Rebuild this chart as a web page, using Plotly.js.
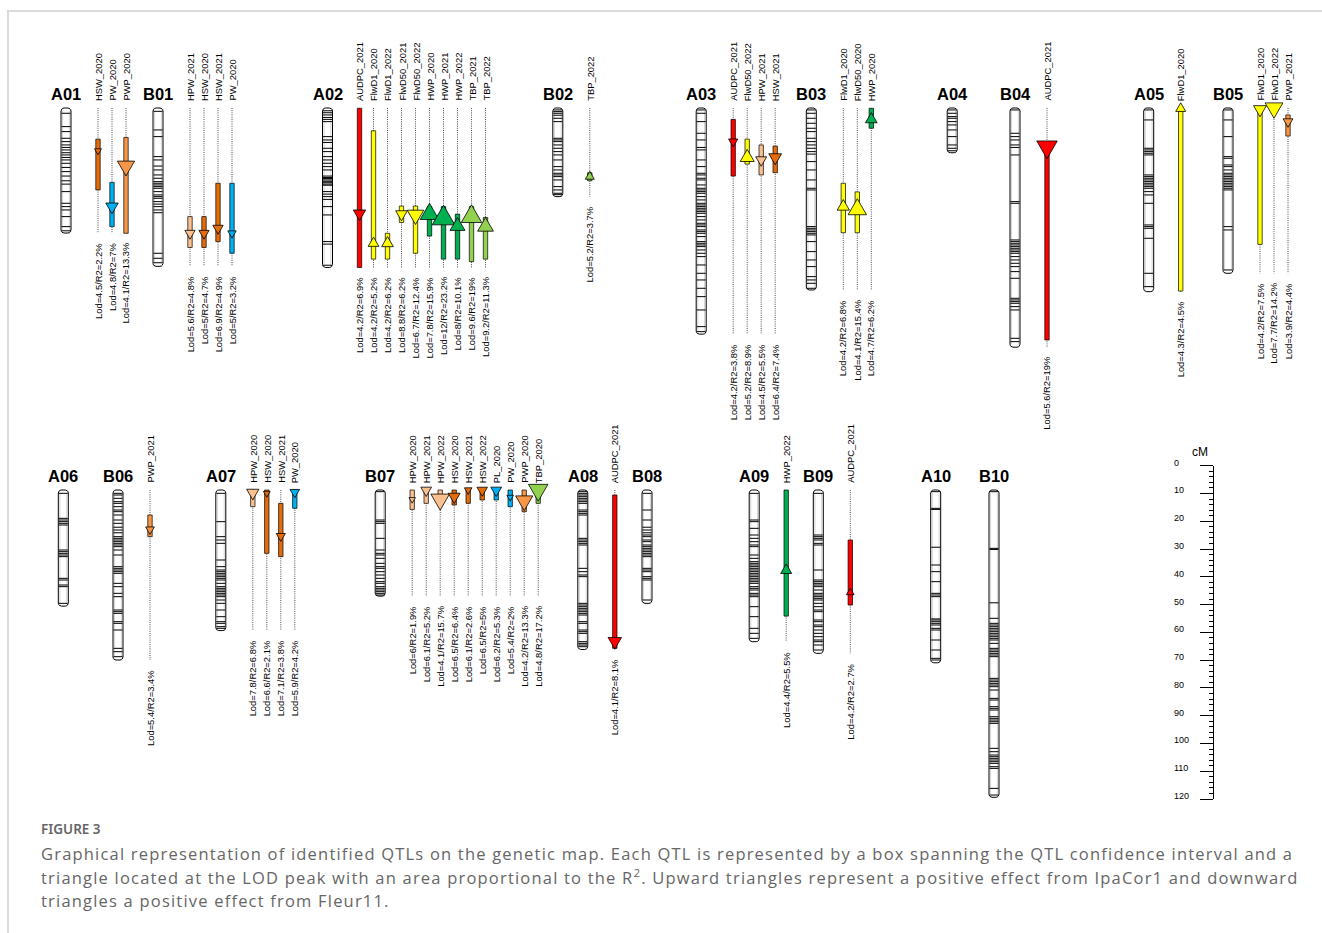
<!DOCTYPE html>
<html><head><meta charset="utf-8">
<script src="https://cdn.plot.ly/plotly-3.0.1.min.js"></script>
<style>html,body{margin:0;padding:0;background:#fff}#chart{width:1322px;height:933px}
text.annotation-text[style*="Open Sans"]{letter-spacing:1.2px}</style>
</head><body><div id="chart"></div>
<script>
// ================= DATA =================
const chromNames = ['A01','B01','A02','B02','A03','B03','A04','B04','A05','B05',
                    'A06','B06','A07','B07','A08','B08','A09','B09','A10','B10'];
const chromLengths = [45, 57, 57.4, 31.9, 81.4, 65.5, 16.1, 86.1, 66.1, 59.5,
                      41.8, 61.2, 50.6, 38.2, 57.4, 40.8, 54.6, 58.8, 62.2, 110.6];

// marker positions (cM) per chromosome
const mkA01 = [1.9,6.7,8.5,10.9,12.1,13.3,14.2,15.1,16.1,16.9,17.8,18.7,19.9,21.4,22.9,24.5,26.2,27.4,30.1,34.3,35.5,36.7,39.1,42.7,44.2];
const mkB01 = [1.2,7.9,10.3,17.5,18.7,20.9,22.3,24.1,25.3,26.5,27.1,27.7,28.3,28.9,30.1,31.3,31.9,32.5,33.7,34.6,35.5,36.7,37.7,52.3,54.1,55.7];
const mkA02 = [1.0,1.7,2.5,3.4,4.1,4.9,10.3,11.5,12.4,14.5,15.7,17.5,18.7,19.9,21.1,22.3,24.5,25.0,25.4,25.9,26.4,26.9,27.4,27.8,30.1,31.0,31.9,32.9,35.5,38.5,48.1,49.0,56.6];
const mkB02 = [0.7,1.3,1.9,2.6,3.7,4.9,10.9,11.5,12.1,13.3,14.5,15.7,16.9,18.7,21.1,22.3,23.5,24.1,24.7,25.9,28.3,29.5,30.7,31.2];
const mkA03 = [0.7,1.9,4.9,9.1,11.5,14.2,15.1,18.7,21.1,23.5,24.1,25.3,25.9,27.7,28.9,29.5,30.1,30.7,31.9,33.1,34.3,34.9,35.5,36.1,36.7,37.3,37.9,39.1,40.3,41.5,42.1,42.7,43.9,44.5,45.1,46.3,48.1,48.7,49.3,49.9,51.1,52.3,53.5,56.5,59.5,61.9,64.9,67.9,72.7,78.7,80.5];
const mkB03 = [0.7,1.9,3.7,5.5,7.3,8.5,10.9,12.1,13.3,14.5,15.7,16.6,19.3,22.3,25.9,28.9,29.5,42.7,43.3,43.9,44.5,45.1,45.7,48.1,51.7,54.7,57.1,60.7,61.9,63.1,64.9];
const mkA04 = [0.7,1.9,3.1,3.7,4.9,6.1,7.9,10.3,13.3,14.5,15.4];
const mkB04 = [0.7,9.1,10.3,11.5,13.3,14.2,16.9,33.7,34.3,47.5,48.1,48.7,49.3,49.9,50.5,51.1,51.7,52.3,53.5,54.7,55.9,57.1,58.9,61.3,68.5,69.1,69.7,70.3,71.5,72.7,82.9,84.1];
const mkA05 = [0.7,4.3,14.5,15.1,15.7,16.3,16.9,24.1,24.7,25.3,25.9,26.5,27.1,27.7,28.3,28.9,30.1,31.3,34.3,42.1,42.7,43.3,46.9,59.5,64.3];
const mkB05 = [0.7,4.3,10.3,17.5,18.1,20.5,21.1,22.3,23.5,24.1,24.7,25.3,25.9,26.5,27.1,27.7,28.3,28.9,29.5,42.7,43.9,58.3];
const mkA06 = [1.2,10.2,10.8,11.4,12,12.6,21.6,22.2,22.8,23.4,24,31.8,32.4,34.2,34.8,40.8];
const mkB06 = [1.2,1.8,3,4.2,4.8,6,7.2,7.8,9,10.8,12,13.4,14.4,15.4,16.8,17.4,18,18.6,19.2,19.8,20.4,21.6,23.4,27.6,28.2,28.8,29.4,30,33.6,34.8,37.2,38.4,43.2,43.8,44.4,47.4,48,50.4,57,58.2,60];
const mkA07 = [1.2,11.4,16.8,18,19.2,25.2,27.6,28.8,29.4,30,30.6,31.2,31.8,32.4,33.6,34.8,35.4,36,36.6,37.2,37.8,38.4,39.6,40.8,43.2,45.6,47.4,48,49.2,49.8];
const mkB07 = [0.6,10.8,11.4,12,17.4,21.6,22.8,23.4,24.6,26.4,27.6,28.2,29.4,30.6,31.8,33,33.6,34.8,35.4,36,36.6,37.2,37.8];
const mkA08 = [0.6,1.2,1.8,2.4,3,3.6,4.2,4.8,7.2,7.8,8.4,9,17.4,18,18.6,19.2,19.8,28.2,29.4,30.6,31.2,40.8,41.4,42,42.6,43.2,43.8,44.4,45,47.4,48,50.4,51,51.6,54.6,55.2,55.8,56.4];
const mkB08 = [1.2,7.2,10.8,13.4,14.4,15.4,16.2,16.8,18,18.6,19.8,20.4,21,21.6,22.2,22.8,23.4,24,28.2,28.8,29.4,31.2,31.8,32.4,39.6];
const mkA09 = [1.2,10.8,11.4,13.8,16.2,17.4,18.6,19.8,20.4,23.4,24.6,25.8,26.4,27,27.6,28.2,28.8,29.4,30,30.6,31.2,31.8,32.4,33,33.6,34.8,35.4,36,37.2,37.8,38.4,42,45.6,49.8,51.6,53.4];
const mkB09 = [1.2,16.2,16.8,17.4,18,19.2,19.8,28.8,32.4,33,33.6,34.2,34.8,36,37.2,37.8,38.4,39,39.6,40.8,42,43.2,43.8,46.8,47.4,48.6,49.2,50.4,51.6,52.8,54,54.6,55.8,57.6];
const mkA10 = [0.6,6.6,7,20.6,27,29.4,33,37.2,37.8,38.4,46.4,46.8,47.4,48,48.6,49.8,50.4,54,57.6,60.6,61.2];
const mkB10 = [0.6,21,21.4,40.6,46.2,48,48.6,49.2,49.8,50.4,51,51.6,52.2,52.8,53.4,54,55.2,57,57.6,58.2,58.8,59.4,60,67.8,68.4,69,69.6,70.2,70.8,72,75,75.6,78,78.6,79.2,81.6,82.2,82.8,83.4,84,93,94.2,95.4,96,96.6,97.2,97.8,98.4,99.6,100.2,107.4,109.8];
const chromMarkers = [mkA01,mkB01,mkA02,mkB02,mkA03,mkB03,mkA04,mkB04,mkA05,mkB05,
                      mkA06,mkB06,mkA07,mkB07,mkA08,mkB08,mkA09,mkB09,mkA10,mkB10];

// QTLs
const qtlChrom = ['A01','A01','A01','B01','B01','B01','B01',
  'A02','A02','A02','A02','A02','A02','A02','A02','A02','A02',
  'B02','A03','A03','A03','A03','B03','B03','B03','B04','A05','B05','B05','B05',
  'B06','A07','A07','A07','A07',
  'B07','B07','B07','B07','B07','B07','B07','B07','B07','B07',
  'A08','A09','B09'];
const qtlTrait = ['HSW_2020','PW_2020','PWP_2020','HPW_2021','HSW_2020','HSW_2021','PW_2020',
  'AUDPC_2021','FlwD1_2020','FlwD1_2022','FlwD50_2021','FlwD50_2022','HWP_2020','HWP_2021','HWP_2022','TBP_2021','TBP_2022',
  'TBP_2022','AUDPC_2021','FlwD50_2022','HPW_2021','HSW_2021','FlwD1_2020','FlwD50_2020','HWP_2020','AUDPC_2021','FlwD1_2020','FlwD1_2020','FlwD1_2022','PWP_2021',
  'PWP_2021','HPW_2020','HSW_2020','HSW_2021','PW_2020',
  'HPW_2020','HPW_2021','HPW_2022','HSW_2020','HSW_2021','HSW_2022','PL_2020','PW_2020','PWP_2020','TBP_2020',
  'AUDPC_2021','HWP_2022','AUDPC_2021'];
const qtlStart = [11.2,26.8,10.6,39.1,39.1,27.1,27.1,
  0.1,8.2,45.1,35.3,35.3,35.5,35.5,38.2,35.5,39.4,
  23.3,4.1,11.2,13.3,13.7,27.1,30.2,0.1,12.7,0.7,0.7,0,2.5,
  9,0,0,4.8,0,
  0,0,0,0,0,0,0,0,0,0,
  1.8,0,18];
const qtlEnd = [29.5,42.7,45.1,50.2,50.2,48.1,52.3,
  57.4,54.4,54.4,41.2,52.3,46.1,54.4,54.4,55.3,54.4,
  26.2,24.5,20.2,24.1,23.3,44.9,44.9,7.3,83.5,65.9,49.1,1.5,10.1,
  16.8,6,22.8,24,6.6,
  7,4.8,3,5.4,4.8,3.6,3.6,6,7.8,4.8,
  57,45.4,41.4];
const qtlPeak = [15.4,35.5,20.9,45.1,45.1,43.3,45.1,
  38.0,48.7,48.7,38.2,38.5,38.2,39.7,42.5,39.1,42.7,
  24.7,12.1,17.8,18.7,17.8,35.5,36.5,4.1,14.0,0.2,0.5,0,4.9,
  14.2,1,1.2,16.6,0.8,
  3.4,0.1,3.4,2.4,0,0.1,0.1,2.6,3.9,0,
  54.5,28.9,36.9];
const qtlDir = ['down','down','down','down','down','down','down',
  'down','up','up','down','down','up','up','up','up','up',
  'up','down','up','down','down','up','up','up','down','up','down','down','down',
  'down','down','down','down','down',
  'down','down','down','down','down','down','down','down','down','down',
  'down','up','up'];
const qtlLod = [4.5,4.8,4.1,5.6,5,6.9,5,
  4.2,4.2,4.2,8.8,6.7,7.8,12,8,9.6,9.2,
  5.2,4.2,5.2,4.5,6.4,4.2,4.1,4.7,5.6,4.3,4.2,7.7,3.9,
  5.4,7.8,6.6,7.1,5.9,
  6,6.1,4.1,6.5,6.1,6.5,6.2,5.4,4.2,4.8,
  4.1,4.4,4.2];
const qtlR2 = [2.2,7,13.3,4.8,4.7,4.9,3.2,
  6.9,5.2,6.2,6.2,12.4,15.9,23.2,10.1,19,11.3,
  3.7,3.8,8.9,5.5,7.4,6.8,15.4,6.2,19,4.5,7.5,14.2,4.4,
  3.4,6.8,2.1,3.8,4.2,
  1.9,5.2,15.7,6.4,2.6,5,5.3,2,13.3,17.2,
  8.1,5.5,2.7];

const rulerTicks = [0,10,20,30,40,50,60,70,80,90,100,110,120];
const rulerUnit = 'cM';
const captionTitle = 'FIGURE 3';
const captionLines = [
  'Graphical representation of identified QTLs on the genetic map. Each QTL is represented by a box spanning the QTL confidence interval and a',
  'triangle located at the LOD peak with an area proportional to the R<sup>2</sup>. Upward triangles represent a positive effect from IpaCor1 and downward',
  'triangles a positive effect from Fleur11.'
];

// ================= LAYOUT / STYLE =================
const W = 1322, H = 933;
const PXCM = 2.778;                 // pixels per cM
const ROW_TOP = [108, 490];         // pixel y of 0 cM for each row
const chromRow = [0,0,0,0,0,0,0,0,0,0, 1,1,1,1,1,1,1,1,1,1];
const chromX = [66,158,327.5,557.8,701.2,811.3,952.2,1015,1148.7,1228,
                63.3,118,220.8,380.2,582.8,647,754.2,818.3,935.7,994];
const CHROM_W = 10, TRACK_OFF = 32, TRACK_STEP = 14, BOX_W = 4.4, TRI_K = 4.7;
const traitColor = {AUDPC:'#FF0000', FlwD1:'#FFFF00', FlwD50:'#FFFF00', HWP:'#00B050', TBP:'#92D050',
  HPW:'#FAC090', HSW:'#E46C0A', PWP:'#F79646', PW:'#00B0F0', PL:'#00B0F0'};
const FONT = 'Liberation Sans, Arial, sans-serif';
const RULER_X = 1213.3, RULER_TOP = 465.7, RULER_BOT = 799, RULER_LABEL_X = 1173;

const traces = [];
const annotations = [];
const yref = r => r === 0 ? 'y' : 'y2';

// chromosomes
chromNames.forEach((name, i) => {
  const xc = chromX[i], L = chromLengths[i], ya = yref(chromRow[i]);
  const hw = CHROM_W / 2, r = 3, ry = r / PXCM;
  const xs = [], ys = [];
  const arc = (cx, cy, a0, a1) => { for (let k = 0; k <= 6; k++) { const a = a0 + (a1 - a0) * k / 6; xs.push(cx + r * Math.cos(a)); ys.push(cy + ry * Math.sin(a)); } };
  arc(xc - hw + r, ry, Math.PI, 1.5 * Math.PI);
  arc(xc + hw - r, ry, 1.5 * Math.PI, 2 * Math.PI);
  arc(xc + hw - r, L - ry, 0, 0.5 * Math.PI);
  arc(xc - hw + r, L - ry, 0.5 * Math.PI, Math.PI);
  xs.push(xs[0]); ys.push(ys[0]);
  traces.push({type:'scatter', mode:'lines', x:xs, y:ys, yaxis:ya, fill:'toself', fillcolor:'#ffffff',
    line:{color:'#000', width:1}, hoverinfo:'skip', showlegend:false});
  // inner light edge
  traces.push({type:'scatter', mode:'lines', x:[xc - hw + 1.6, xc - hw + 1.6, null, xc + hw - 1.6, xc + hw - 1.6],
    y:[ry, L - ry, null, ry, L - ry], yaxis:ya, line:{color:'#c8c8c8', width:0.8}, hoverinfo:'skip', showlegend:false});
  // bands
  const bx = [], by = [];
  chromMarkers[i].forEach(m => { bx.push(xc - hw + 0.5, xc + hw - 0.5, null); by.push(m, m, null); });
  traces.push({type:'scatter', mode:'lines', x:bx, y:by, yaxis:ya, line:{color:'#000', width:1},
    hoverinfo:'skip', showlegend:false});
  // name
  annotations.push({x:xc, y:-4 / PXCM, xref:'x', yref:ya, text:name, showarrow:false, xanchor:'center', yanchor:'bottom',
    font:{family:FONT, size:16.5, color:'#000', weight:'bold'}, borderpad:0});
});

// tracks
const trackCount = {};
const qtlX = qtlChrom.map(c => { const k = trackCount[c] || 0; trackCount[c] = k + 1; return chromX[chromNames.indexOf(c)] + TRACK_OFF + TRACK_STEP * k; });
const qtlRow = qtlChrom.map(c => chromRow[chromNames.indexOf(c)]);
const qtlLen = qtlChrom.map(c => chromLengths[chromNames.indexOf(c)]);
const colorOf = t => traitColor[t.split('_')[0]];

// dotted track lines
[0, 1].forEach(r => {
  const dx = [], dy = [];
  qtlX.forEach((x, j) => { if (qtlRow[j] === r) { dx.push(x, x, null); dy.push(0, qtlLen[j], null); } });
  traces.push({type:'scatter', mode:'lines', x:dx, y:dy, yaxis:yref(r), line:{color:'#222', width:0.8, dash:'1px,1.2px'},
    hoverinfo:'skip', showlegend:false});
});

// QTL boxes
qtlX.forEach((x, j) => {
  const s = qtlStart[j], e = qtlEnd[j];
  traces.push({type:'scatter', mode:'lines', x:[x - BOX_W/2, x + BOX_W/2, x + BOX_W/2, x - BOX_W/2, x - BOX_W/2],
    y:[s, s, e, e, s], yaxis:yref(qtlRow[j]), fill:'toself', fillcolor:colorOf(qtlTrait[j]),
    line:{color:'#000', width:0.7}, hoverinfo:'skip', showlegend:false});
});
// triangles (area proportional to R2)
qtlX.forEach((x, j) => {
  const w = TRI_K * Math.sqrt(qtlR2[j]);
  const h = w * 0.866 / PXCM;
  const p = qtlPeak[j];
  const apex = qtlDir[j] === 'up' ? p - 2 * h / 3 : p + 2 * h / 3;
  const base = qtlDir[j] === 'up' ? p + h / 3 : p - h / 3;
  traces.push({type:'scatter', mode:'lines', x:[x - w/2, x + w/2, x, x - w/2], y:[base, base, apex, base],
    yaxis:yref(qtlRow[j]), fill:'toself', fillcolor:colorOf(qtlTrait[j]),
    line:{color:'#000', width:0.8}, hoverinfo:'skip', showlegend:false});
});
// labels
qtlX.forEach((x, j) => {
  const ya = yref(qtlRow[j]);
  annotations.push({x:x, y:-6 / PXCM, xref:'x', yref:ya, text:qtlTrait[j], showarrow:false, textangle:-90,
    xanchor:'center', yanchor:'bottom', borderpad:0, font:{family:FONT, size:9.4, color:'#000'}});
  annotations.push({x:x, y:qtlLen[j] + 9 / PXCM, xref:'x', yref:ya, text:'Lod=' + qtlLod[j] + '/R2=' + qtlR2[j] + '%',
    showarrow:false, textangle:-90, xanchor:'center', yanchor:'top', borderpad:0, font:{family:FONT, size:9.4, color:'#000'}});
});

// ruler (axis y3 draws line + ticks; labels placed through full-height axis y4)
traces.push({type:'scatter', mode:'markers', x:[RULER_X], y:[0], yaxis:'y3', marker:{opacity:0, size:1},
  hoverinfo:'skip', showlegend:false});
traces.push({type:'scatter', mode:'markers', x:[RULER_X], y:[0], yaxis:'y4', marker:{opacity:0, size:1},
  hoverinfo:'skip', showlegend:false});
rulerTicks.forEach(t => {
  annotations.push({x:RULER_LABEL_X, y:t - 1.1, xref:'x', yref:'y4', text:String(t), showarrow:false,
    xanchor:'left', yanchor:'middle', borderpad:0, font:{family:FONT, size:9, color:'#000'}});
});
annotations.push({x:1200, y:-4.9, xref:'x', yref:'y4', text:rulerUnit, showarrow:false, xanchor:'center', yanchor:'middle',
  borderpad:0, font:{family:FONT, size:12, color:'#000'}});

// caption
annotations.push({x:40 / W, y:1 - 829 / H, xref:'paper', yref:'paper', text:captionTitle, showarrow:false,
  xanchor:'left', yanchor:'middle', borderpad:0, font:{family:'Noto Sans, sans-serif', size:13.5, color:'#666', weight:600}});
captionLines.forEach((t, k) => {
  annotations.push({x:40 / W, y:1 - (853 + 23.5 * k) / H, xref:'paper', yref:'paper', text:t, showarrow:false,
    xanchor:'left', yanchor:'middle', borderpad:0, font:{family:'Open Sans, sans-serif', size:16.5, color:'#666'}});
});

const yRange = top => [(H - top) / PXCM, -top / PXCM];
const layout = {
  width:W, height:H, margin:{l:0, r:0, t:0, b:0}, paper_bgcolor:'#fff', plot_bgcolor:'rgba(0,0,0,0)',
  showlegend:false,
  xaxis:{range:[0, W], visible:false, fixedrange:true},
  yaxis:{range:yRange(ROW_TOP[0]), domain:[0, 1], visible:false, fixedrange:true},
  yaxis2:{range:yRange(ROW_TOP[1]), overlaying:'y', visible:false, fixedrange:true},
  yaxis4:{range:yRange(RULER_TOP), overlaying:'y', visible:false, fixedrange:true},
  yaxis3:{range:[120, 0], domain:[1 - RULER_BOT / H, 1 - RULER_TOP / H], anchor:'free', position:RULER_X / W,
    side:'left', showline:true, linecolor:'#000', linewidth:1, ticks:'outside', ticklen:13, tickwidth:1, tickcolor:'#000',
    dtick:10, tick0:0, showticklabels:false, showgrid:false, zeroline:false, fixedrange:true,
    minor:{dtick:2, tick0:0, ticks:'outside', ticklen:4, tickcolor:'#000', tickwidth:1, showgrid:false}},
  annotations:annotations,
  shapes:[
    {type:'line', xref:'paper', yref:'paper', x0:7 / W, x1:1, y0:1 - 11 / H, y1:1 - 11 / H, line:{color:'#cfcfcf', width:1.5}},
    {type:'line', xref:'paper', yref:'paper', x0:8 / W, x1:8 / W, y0:1 - 11 / H, y1:0, line:{color:'#cfcfcf', width:1.5}}
  ]
};
Plotly.newPlot('chart', traces, layout, {displayModeBar:false, staticPlot:true});
</script></body></html>
